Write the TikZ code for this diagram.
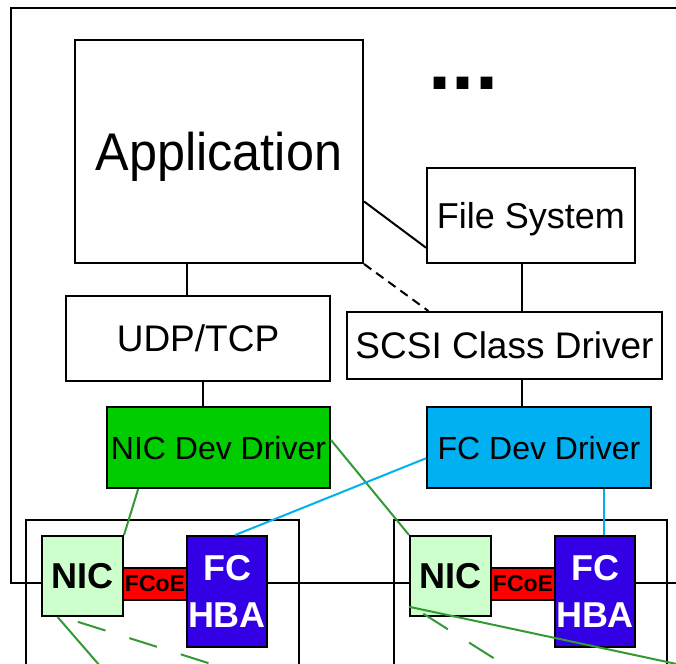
\documentclass[tikz,border=0pt]{standalone}
\usepackage{fontspec}
\setmainfont{Liberation Sans}
\usetikzlibrary{calc}
\definecolor{nicgreen}{RGB}{0,204,0}
\definecolor{fcblue}{RGB}{0,176,240}
\definecolor{linkgreen}{RGB}{51,153,51}
\definecolor{nicpale}{RGB}{204,255,204}
\definecolor{hbablue}{RGB}{51,0,230}
\definecolor{fcoered}{RGB}{255,0,0}

\begin{document}
\begin{tikzpicture}[x=1pt,y=-1pt,line width=2pt,
  box/.style={draw=black,line width=2pt,inner sep=0pt,align=center},
  layer/.style={box,fill=white,text depth=0pt},
  sized/.style 2 args={minimum width=#1,minimum height=#2},
  greenlink/.style={draw=linkgreen,line width=2pt},
  bluelink/.style={draw=fcblue,line width=2pt},
  greendash/.style={greenlink,dash pattern=on 29pt off 25pt},
  blackdash/.style={draw=black,line width=2pt,dash pattern=on 9pt off 6pt}]

\path[use as bounding box,clip] (0,0) rectangle (676,663);

% host enclosure and the two adapter cards
\draw (700,8) -- (11,8) -- (11,582.5) -- (700,582.5);
\draw (26,520) rectangle (299,700);
\draw (394,520) rectangle (667,700);

% software stack
\node[layer,sized={288pt}{223pt},font=\fontsize{53}{60}\selectfont] (app) at (219,151.5) {\scalebox{0.95}[1]{Application}};
\node[font=\fontsize{83}{90}\bfseries\selectfont,anchor=base,inner sep=0pt] (more) at (463.5,90) {...};
\node[layer,sized={208pt}{95pt},font=\fontsize{36}{42}\selectfont] (fs) at (531,215.5) {File System};
\node[layer,sized={264pt}{85pt},font=\fontsize{37}{42}\selectfont] (udp) at (198,338.5) {UDP/TCP};
\node[layer,sized={315pt}{67pt},font=\fontsize{37}{42}\selectfont] (scsi) at (504.5,345.5) {SCSI Class Driver};
\node[layer,fill=nicgreen,sized={223pt}{81pt},font=\fontsize{32}{38}\selectfont] (nicdd) at (218.5,447.5) {NIC Dev Driver};
\node[layer,fill=fcblue,sized={224pt}{81pt},font=\fontsize{32}{38}\selectfont] (fcdd) at (539,447.5) {FC Dev Driver};

% adapter hardware
\foreach \s/\dx in {L/0,R/368} {
  \node[box,fill=fcoered,sized={64pt}{32pt},font=\fontsize{23}{26}\bfseries\selectfont] (fcoe\s) at (155+\dx,584) {FCoE};
  \node[box,fill=nicpale,sized={81pt}{80pt},font=\fontsize{36}{42}\bfseries\selectfont] (nic\s) at (82.5+\dx,576) {NIC};
  \node[box,fill=hbablue,text=white,sized={80pt}{111pt},font=\fontsize{36}{47}\bfseries\selectfont] (hba\s) at (227+\dx,591.5) {FC\\HBA};
}

% stack connections
\draw ($(app.north east)!0.722!(app.south east)$) -- ($(fs.north west)!0.832!(fs.south west)$);
\draw[blackdash] (app.south east) -- ($(scsi.north west)!0.26!(scsi.north east)$);
\draw ($(app.south west)!0.389!(app.south east)$) coordinate (t1) -- (t1 |- udp.north);
\draw ($(fs.south west)!0.457!(fs.south east)$) coordinate (t2) -- (t2 |- scsi.north);
\draw ($(udp.south west)!0.519!(udp.south east)$) coordinate (t3) -- (t3 |- nicdd.north);
\draw ($(scsi.south west)!0.556!(scsi.south east)$) coordinate (t4) -- (t4 |- fcdd.north);

% driver to adapter links
\draw[greenlink] ($(nicdd.south west)!0.143!(nicdd.south east)$) -- (nicL.north east);
\draw[greenlink] ($(nicdd.north east)!0.41!(nicdd.south east)$) -- (nicR.north west);
\draw[bluelink] ($(fcdd.north west)!0.63!(fcdd.south west)$) -- ($(hbaL.north west)!0.6!(hbaL.north east)$);
\draw[bluelink] ($(fcdd.south west)!0.786!(fcdd.south east)$) coordinate (t5) -- (t5 |- hbaR.north);

% links leaving the adapters
\coordinate (outL1) at (129.5,700);
\coordinate (outL2) at (300,692);
\coordinate (outR1) at (700,669);
\coordinate (outR2) at (560,700);
\draw[greenlink] ($(nicL.south west)!0.2!(nicL.south east)$) -- (outL1);
\draw[greendash,dash phase=38pt] ($(nicL.south west)!0.26!(nicL.south east)$) -- (outL2);
\draw[greenlink] ($(nicR.north west)!0.875!(nicR.south west)$) -- (outR1);
\draw[greendash,dash phase=37pt] ($(nicR.north west)!0.85!(nicR.south west)$) -- (outR2);
\end{tikzpicture}
\end{document}
